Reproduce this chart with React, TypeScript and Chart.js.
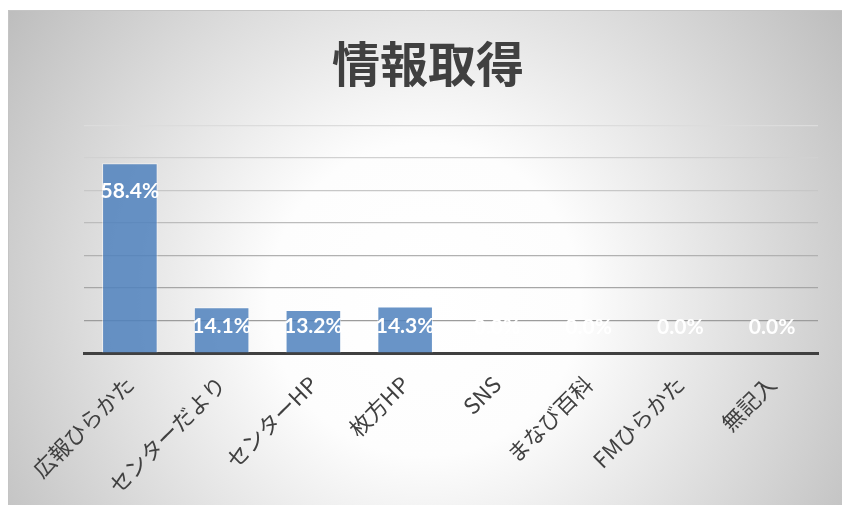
import React, { useEffect, useRef } from "react";
import { Chart, registerables } from "chart.js";

Chart.register(...registerables);

const TITLE = "情報取得";
const categories = ["広報ひらかた", "センターだより", "センターHP", "枚方HP", "SNS", "まなび百科", "FMひらかた", "無記入"];
const percentValues = [58.4, 14.1, 13.2, 14.3, 0.0, 0.0, 0.0, 0.0];
const yMax = 70;
const yStep = 10;

const backgroundPlugin = {
  id: "bgPanel",
  beforeDraw(chart: any) {
    const { ctx, width, height } = chart;
    ctx.save();
    ctx.fillStyle = "#ffffff";
    ctx.fillRect(0, 0, width, height);
    const x0 = 8, y0 = 10, x1 = width, y1 = height;
    const g = ctx.createRadialGradient(425, 300, 0, 425, 300, 520);
    g.addColorStop(0, "#ffffff");
    g.addColorStop(0.3, "#fdfdfd");
    g.addColorStop(1, "#bbbbbb");
    ctx.fillStyle = g;
    ctx.fillRect(x0, y0, x1 - x0, y1 - y0);
    ctx.strokeStyle = "#c4c4c4";
    ctx.lineWidth = 1;
    ctx.beginPath();
    ctx.moveTo(x0 + 0.5, y1);
    ctx.lineTo(x0 + 0.5, y0 + 0.5);
    ctx.lineTo(x1, y0 + 0.5);
    ctx.stroke();
    ctx.restore();
  },
};

const valueLabelPlugin = {
  id: "valueLabels",
  afterDatasetsDraw(chart: any) {
    const { ctx } = chart;
    const meta = chart.getDatasetMeta(0);
    ctx.save();
    ctx.fillStyle = "#ffffff";
    ctx.font = "bold 21px Lato, 'Open Sans', sans-serif";
    ctx.textAlign = "center";
    ctx.textBaseline = "middle";
    meta.data.forEach((bar: any, i: number) => {
      const v = percentValues[i];
      const y = Math.min(bar.y + 28, bar.base - 26);
      ctx.fillText(v.toFixed(1) + "%", bar.x, y);
    });
    ctx.restore();
  },
};

function gridColor(value: number): string {
  if (value === 0) return "rgba(0,0,0,0)";
  const t = value / yMax; // 0 bottom .. 1 top
  const c = Math.round(145 + t * 75);
  return `rgb(${c},${c},${c})`;
}

export default function App() {
  const canvasRef = useRef<HTMLCanvasElement | null>(null);

  useEffect(() => {
    if (!canvasRef.current) return;
    const chart = new Chart(canvasRef.current, {
      type: "bar",
      data: {
        labels: categories,
        datasets: [
          {
            data: percentValues,
            backgroundColor: "rgba(79,129,189,0.85)",
            borderColor: "rgba(255,255,255,0.55)",
            borderWidth: 1,
            categoryPercentage: 1,
            barPercentage: 0.606,
          },
        ],
      },
      options: {
        responsive: false,
        animation: false,
        layout: { padding: { left: 38, right: 24, top: 10, bottom: 0 } },
        plugins: {
          legend: { display: false },
          tooltip: { enabled: false },
          title: {
            display: true,
            text: TITLE,
            color: "#404040",
            font: { family: "'Noto Sans CJK JP', sans-serif", size: 48, weight: "bold" },
            padding: { top: 25, bottom: 33 },
          },
        },
        scales: {
          x: {
            grid: { display: false },
            border: { display: true, color: "#404040", width: 3 },
            ticks: {
              color: "#404040",
              font: { family: "'Noto Sans CJK JP', sans-serif", size: 22 },
              minRotation: 45,
              maxRotation: 45,
              padding: 10,
              autoSkip: false,
            },
            afterFit(scale: any) {
              scale.height = 152;
              scale.paddingLeft = 0;
              scale.paddingRight = 0;
            },
          },
          y: {
            min: 0,
            max: yMax,
            ticks: { display: false, stepSize: yStep },
            border: { display: false },
            grid: {
              drawTicks: false,
              lineWidth: 1.2,
              color: (ctx: any) => gridColor(ctx.tick ? ctx.tick.value : 0),
            },
            afterFit(scale: any) {
              scale.width = 46;
            },
          },
        },
      },
      plugins: [backgroundPlugin, valueLabelPlugin],
    } as any);
    return () => chart.destroy();
  }, []);

  return (
    <div style={{ position: "fixed", left: 0, top: 0, width: 842, height: 505 }}>
      <canvas ref={canvasRef} width={842} height={505} style={{ display: "block" }} />
    </div>
  );
}
